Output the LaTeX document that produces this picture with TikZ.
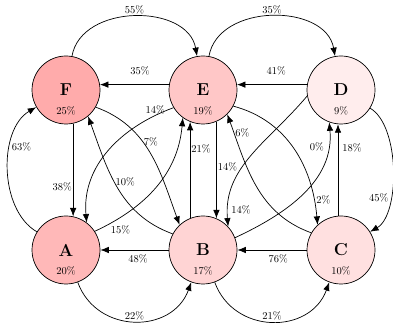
\documentclass[tikz,border=0pt]{standalone}
\usetikzlibrary{arrows.meta}

\begin{document}
\begin{tikzpicture}[x=1pt, y=1pt,
    >={Latex[length=8.5pt, width=6.5pt]},
    state/.style={draw, circle, line width=0.7pt, minimum size=68pt, inner sep=0pt, font=\LARGE\bfseries},
    share/.style={label={[font=\fontsize{10.5}{12}\selectfont, inner sep=0pt, label distance=-18pt]-90:#1}},
    trans/.style={->, line width=0.7pt},
    pct/.style={font=\fontsize{10.5}{12}\selectfont, inner sep=1pt}]

    \useasboundingbox (0,0) rectangle (393,326);

    % States, shaded by their long-run share
    \node[state, fill=red!33, share=25\%] (F) at (66,236) {F};
    \node[state, fill=red!22, share=19\%] (E) at (203,236) {E};
    \node[state, fill=red!7,  share=9\%]  (D) at (341,236) {D};
    \node[state, fill=red!28, share=20\%] (A) at (66,76) {A};
    \node[state, fill=red!17, share=17\%] (B) at (203,76) {B};
    \node[state, fill=red!12, share=10\%] (C) at (341,76) {C};

    % Arcs over the top row and under the bottom row
    \draw[trans] (F.80) to[out=80, in=100, looseness=1.1] node[pct, above=1pt] {55\%} (E.100);
    \draw[trans] (E.80) to[out=80, in=100, looseness=1.1] node[pct, above=1pt] {35\%} (D.100);
    \draw[trans] (A.-70) to[out=-70, in=-110, looseness=1.25] node[pct, above] {22\%} (B.-110);
    \draw[trans] (B.-70) to[out=-70, in=-110, looseness=1.25] node[pct, above] {21\%} (C.-110);

    % Straight moves between neighbours
    \draw[trans] (E.171) -- node[pct, above=8pt, pos=0.42] {35\%} (F.9);
    \draw[trans] (D.171) -- node[pct, above=8pt, pos=0.44] {41\%} (E.9);
    \draw[trans] (B) -- node[pct, below=3pt, pos=0.45] {48\%} (A);
    \draw[trans] (C) -- node[pct, below=3pt, pos=0.41] {76\%} (B);
    \draw[trans] (F.-78) -- node[pct, left=0pt, pos=0.68] {38\%} (A.78);
    \draw[trans] (E.-67) -- node[pct, right=0pt, pos=0.47] {14\%} (B.67);
    \draw[trans] (B.112) -- node[pct, right=0pt, pos=0.72] {21\%} (E.-112);
    \draw[trans] (C.95) -- node[pct, right=3pt, pos=0.74] {18\%} (D.-95);

    % Loops round the outside
    \draw[trans] (A.148) to[out=150, in=210, looseness=0.9] node[pct, right, pos=0.65] {63\%} (F.210);
    \draw[trans] (D.-32) to[out=-30, in=30, looseness=0.72] node[pct, left, pos=0.68] {45\%} (C.32);

    % Crossing moves in the middle
    \draw[trans] (F.-30) to[out=-20, in=110] node[pct, right, pos=0.4] {7\%} (B.133);
    \draw[trans] (B.152) to[out=160, in=-70] node[pct, right, pos=0.55] {10\%} (F.-50);
    \draw[trans] (E.211) to[out=200, in=95] node[pct, above, pos=0.12] {14\%} (A.53);
    \draw[trans] (A.33) to[out=25, in=-95] node[pct, below right, pos=0.1] {15\%} (E.-126);
    \draw[trans] (C.150) to[out=160, in=-70] node[pct, right, pos=0.88] {6\%} (E.-45);
    \draw[trans] (E.-28) to[out=-15, in=95] node[pct, right=1pt, pos=0.85] {2\%} (C.133);
    \draw[trans] (D.190) to[out=230, in=95] node[pct, right=2pt, pos=0.9] {14\%} (B.43);
    \draw[trans] (B.21) to[out=25, in=-85] node[pct, left=3pt, pos=0.85] {0\%} (D.-110);

\end{tikzpicture}
\end{document}
